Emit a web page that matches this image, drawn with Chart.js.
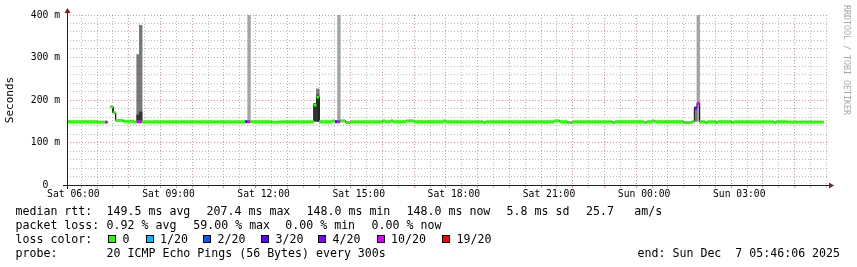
<!DOCTYPE html>
<html lang="en">
<head>
<meta charset="UTF-8">
<title>median rtt</title>
<style>
  body { margin: 0; background: #fff; }
  #wrap { position: relative; width: 857px; height: 267px; overflow: hidden; }
  canvas { position: absolute; left: 0; top: 0; }
  .txt { position: absolute; font-family: "DejaVu Sans Mono", monospace; font-size: 11.6px; line-height: 14px; white-space: pre; color: #000; }
  .box { position: absolute; width: 6px; height: 6px; border: 1px solid #000; }
  #credit { position: absolute; left: 840px; top: 5px; width: 13px; writing-mode: vertical-rl; font-family: "DejaVu Sans Mono", monospace; font-size: 8.3px; line-height: 13px; color: #a8a8a8; white-space: pre; }
</style>
</head>
<body>
<div id="wrap">
  <canvas id="rttChart" width="857" height="267"></canvas>
  <div id="credit">RRDTOOL / TOBI OETIKER</div>
</div>
<script src="https://cdn.jsdelivr.net/npm/chart.js"></script>
<script>
// times are minutes since Sat 00:00, values in ms

// median rtt, one entry per run of equal 5 minute steps
const medStart = [348, 405, 420, 425, 430, 435, 440, 455, 475, 480, 490, 685, 690, 695, 735, 750,
  815, 820, 825, 850, 855, 860, 865, 875, 885, 945, 950, 960, 965, 990, 1005, 1060, 1065, 1135, 1140,
  1270, 1280, 1295, 1305, 1380, 1385, 1440, 1445, 1455, 1460, 1515, 1530, 1535, 1540, 1545, 1555,
  1560, 1575, 1580, 1605, 1610, 1685, 1690, 1710];
const medValue = [149, 148, 148, null, 184, 170, 152, 150, 148, 149, 149, 149, 149, 149, 148, 149,
  188, 207, 149, 151, 149, 149, 151, 147, 149, 151, 149, 151, 149, 151, 149, 151, 149, 147, 149,
  151, 149, 147, 149, 147, 149, 147, 149, 151, 149, 147, 149, 181, 192, 149, 147,
  149, 147, 149, 147, 149, 147, 149, 148];
const medLoss = [0, 0, 10, 0, 0, 0, 0, 0, 0, 10, 0, 3, 10, 0, 0, 0,
  0, 0, 0, 0, 3, 10, 0, 0, 0, 0, 0, 0, 0, 0, 0, 0, 0, 0, 0,
  0, 0, 0, 0, 0, 0, 0, 0, 0, 0, 0, 0, 3, 10, 0, 0,
  0, 0, 0, 0, 0, 0, 0, 0];
const medEnd = 1780;

// smoke (ping spread) per 5 minute step
const smokeTime = [482.5, 487.5, 822.5, 1537.5];
const smokeLow = [150, 150, 150, 150];
const smokeHigh = [307, 376, 226, 183];
const coreTime = [482.5, 487.5, 817.5, 822.5];
const coreLow = [149, 149, 150, 150];
const coreHigh = [165, 172, 192, 212];
const spikeTime = [692.5, 862.5, 1542.5];
const spikeLow = [150, 150, 150];
const spikeHigh = [400, 400, 400];

const timeTicks = [360, 540, 720, 900, 1080, 1260, 1440, 1620];
const timeLabels = ['Sat 06:00', 'Sat 09:00', 'Sat 12:00', 'Sat 15:00', 'Sat 18:00', 'Sat 21:00', 'Sun 00:00', 'Sun 03:00'];
const rttTicks = [0, 100, 200, 300, 400];

const lossLevels = [0, 1, 2, 3, 4, 10, 19];
const lossNames = ['0', '1/20', '2/20', '3/20', '4/20', '10/20', '19/20'];
const lossColors = {0: '#26ff00', 1: '#00b8ff', 2: '#0059ff', 3: '#5e00ff', 4: '#7e00ff', 10: '#dd00ff', 19: '#ff0000'};

const rttStats = ['149.5 ms avg', '207.4 ms max', '148.0 ms min', '148.0 ms now', '5.8 ms sd', '25.7', 'am/s'];
const lossStats = ['0.92 % avg', '59.00 % max', '0.00 % min', '0.00 % now'];
const probeText = '20 ICMP Echo Pings (56 Bytes) every 300s';
const endText = 'end: Sun Dec  7 05:46:06 2025';

// turn runs into step points
const medPoints = [];
const medPointLoss = [];
medStart.forEach((s, i) => {
  const e = i + 1 < medStart.length ? medStart[i + 1] : medEnd;
  medPoints.push({x: s, y: medValue[i]}, {x: e, y: medValue[i]});
  medPointLoss.push(medLoss[i], medLoss[i]);
});
const bars = (t, lo, hi) => t.map((x, i) => ({x: x, y: [lo[i], hi[i]]}));

const MAJOR = 'rgba(222,79,79,0.6)';
const MINOR = 'rgba(143,143,143,0.6)';

const axisArrows = {
  id: 'axisArrows',
  afterDraw(chart) {
    const ctx = chart.ctx, a = chart.chartArea;
    ctx.save();
    ctx.strokeStyle = '#1f1f1f';
    ctx.lineWidth = 1;
    ctx.beginPath();
    ctx.moveTo(a.left - 4, a.bottom + 0.5);
    ctx.lineTo(a.right + 2, a.bottom + 0.5);
    ctx.moveTo(a.left + 0.5, a.bottom + 4);
    ctx.lineTo(a.left + 0.5, a.top - 2);
    ctx.stroke();
    ctx.fillStyle = '#801f1f';
    ctx.beginPath();
    ctx.moveTo(a.left - 2.5, a.top - 2);
    ctx.lineTo(a.left + 3.5, a.top - 2);
    ctx.lineTo(a.left + 0.5, a.top - 7);
    ctx.closePath();
    ctx.fill();
    ctx.beginPath();
    ctx.moveTo(a.right + 1, a.bottom - 2.5);
    ctx.lineTo(a.right + 1, a.bottom + 3.5);
    ctx.lineTo(a.right + 6, a.bottom + 0.5);
    ctx.closePath();
    ctx.fill();
    ctx.restore();
  }
};

Chart.defaults.font.family = '"DejaVu Sans Mono", monospace';
Chart.defaults.color = '#000';

new Chart(document.getElementById('rttChart'), {
  type: 'line',
  data: {
    datasets: [
      {
        label: 'median rtt',
        data: medPoints,
        borderWidth: 3,
        borderCapStyle: 'butt',
        pointRadius: 0,
        spanGaps: false,
        order: 0,
        segment: {
          borderColor: c => c.p0.parsed.x === c.p1.parsed.x ? 'rgba(0,0,0,0)' : lossColors[medPointLoss[c.p0DataIndex]]
        }
      },
      {
        label: 'median',
        data: medPoints,
        borderColor: '#202020',
        borderWidth: 1,
        pointRadius: 0,
        spanGaps: false,
        order: 1
      },
      {
        type: 'bar', label: 'smoke core', data: bars(coreTime, coreLow, coreHigh),
        backgroundColor: '#333333', barThickness: 2.7, grouped: false, order: 2
      },
      {
        type: 'bar', label: 'smoke', data: bars(smokeTime, smokeLow, smokeHigh),
        backgroundColor: '#777777', barThickness: 2.7, grouped: false, order: 3
      },
      {
        type: 'bar', label: 'outliers', data: bars(spikeTime, spikeLow, spikeHigh),
        backgroundColor: '#a4a4a4', barThickness: 2.7, grouped: false, order: 4
      }
    ]
  },
  options: {
    responsive: false,
    animation: false,
    layout: { padding: { left: 0, top: 15, right: 29, bottom: 62 } },
    plugins: { legend: { display: false }, tooltip: { enabled: false } },
    scales: {
      x: {
        type: 'linear',
        min: 348,
        max: 1788,
        offset: false,
        afterBuildTicks: s => {
          const ticks = [];
          for (let t = 360; t < 1788; t += 30) ticks.push({value: t});
          s.ticks = ticks;
        },
        afterFit: s => { s.height = 20; },
        ticks: {
          autoSkip: false, maxRotation: 0, minRotation: 0, padding: 1,
          font: { size: 9.7 },
          callback: v => { const i = timeTicks.indexOf(v); return i >= 0 ? timeLabels[i] : ''; }
        },
        grid: {
          color: c => c.tick && c.tick.value % 60 === 0 ? MAJOR : MINOR,
          tickColor: c => c.tick && c.tick.value % 60 === 0 ? MAJOR : MINOR,
          tickLength: 3
        },
        border: { display: false, dash: [1, 2] }
      },
      y: {
        min: 0,
        max: 400,
        afterBuildTicks: s => {
          const ticks = [];
          for (let v = 0; v <= 400; v += 20) ticks.push({value: v});
          s.ticks = ticks;
        },
        afterFit: s => { s.width = 67; },
        ticks: {
          autoSkip: false, padding: 7,
          font: { size: 9.7 },
          callback: v => rttTicks.includes(v) ? (v === 0 ? '0  ' : v + ' m') : ''
        },
        grid: {
          drawTicks: false,
          color: c => c.tick && c.tick.value % 100 === 0 ? MAJOR : MINOR
        },
        border: { display: false, dash: [1, 2] },
        title: { display: true, text: 'Seconds', font: { size: 11 }, padding: { top: 4, bottom: 0 } }
      }
    }
  },
  plugins: [axisArrows]
});

// text legend below the graph
const wrap = document.getElementById('wrap');
function place(text, x, y) {
  const d = document.createElement('div');
  d.className = 'txt';
  d.textContent = text;
  d.style.left = x + 'px';
  d.style.top = y + 'px';
  wrap.appendChild(d);
}
const rowY = [204, 218, 232, 245.5];
place('median rtt:', 15.5, rowY[0]);
[106.6, 206.6, 306.6, 406.6, 506.6, 586, 634.3].forEach((x, i) => place(rttStats[i], x, rowY[0]));
place('packet loss:', 15.5, rowY[1]);
[106.6, 193.3, 285.3, 371.6].forEach((x, i) => place(lossStats[i], x, rowY[1]));
place('loss color:', 15.5, rowY[2]);
[108, 145.5, 203, 261, 318, 376.5, 442].forEach((x, i) => {
  const b = document.createElement('div');
  b.className = 'box';
  b.style.left = x + 'px';
  b.style.top = '235px';
  b.style.background = lossColors[lossLevels[i]];
  wrap.appendChild(b);
  place(lossNames[i], x + 14.6, rowY[2]);
});
place('probe:', 15.5, rowY[3]);
place(probeText, 106.6, rowY[3]);
place(endText, 637.6, rowY[3]);
</script>
</body>
</html>
